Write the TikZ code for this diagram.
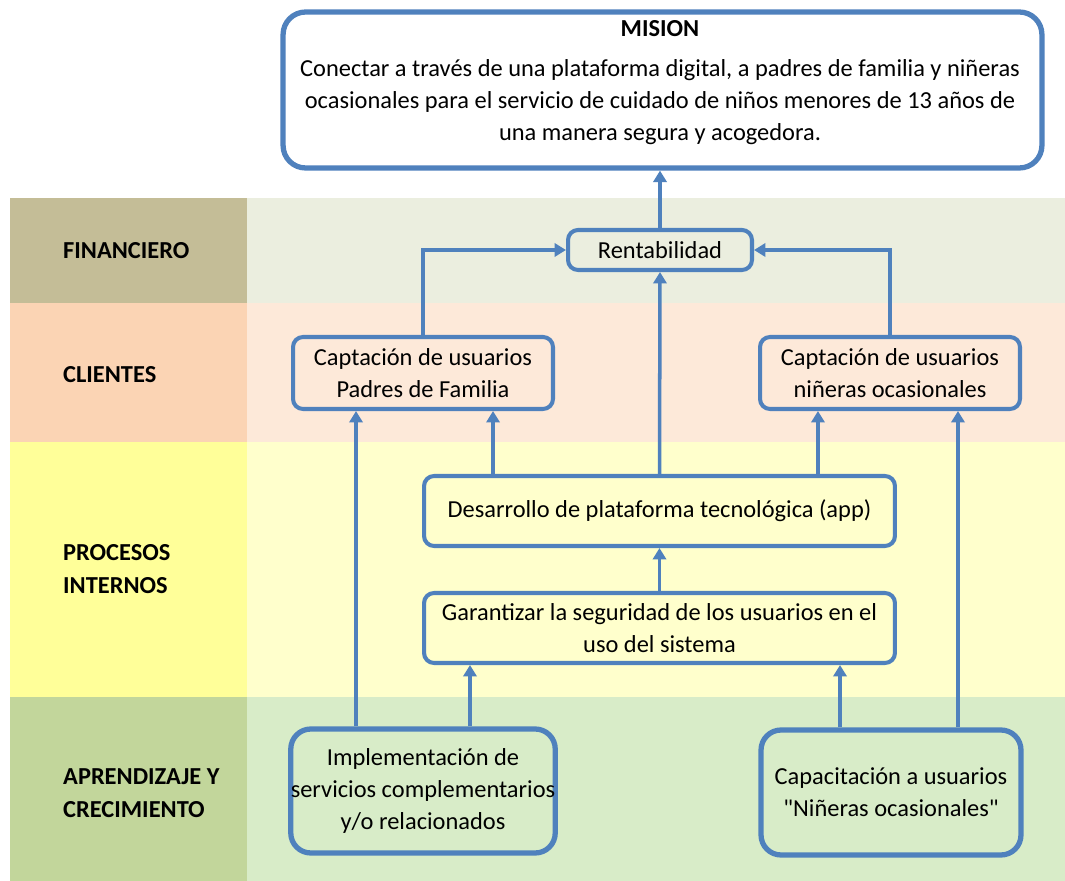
\documentclass[tikz,border=0pt]{standalone}
\usepackage{fontspec}
\setmainfont{Carlito}[Ligatures=TeXOff]
\usetikzlibrary{arrows.meta}
\definecolor{bsc}{RGB}{79,129,189}
\definecolor{finL}{RGB}{196,189,151}
\definecolor{finR}{RGB}{235,238,223}
\definecolor{cliL}{RGB}{251,212,180}
\definecolor{cliR}{RGB}{253,233,217}
\definecolor{proL}{RGB}{255,255,153}
\definecolor{proR}{RGB}{255,255,204}
\definecolor{apaL}{RGB}{194,214,155}
\definecolor{apaR}{RGB}{216,236,200}
\tikzset{%
  caja/.style={draw=bsc, line width=2.3pt, rounded corners=0.2cm, align=center,
    inner sep=0pt, font=\fontsize{13.9}{18.4}\selectfont},% objective box
  cajagrande/.style={caja, line width=3pt, rounded corners=0.45cm},
  flecha/.style={draw=bsc, line width=2pt, -{Triangle[width=7.5pt,length=6.5pt]}},% cause-effect arrow
  perspectiva/.style={anchor=west, align=left,
    font=\fontsize{13.9}{18.4}\selectfont\bfseries}% row label
}

\begin{document}
\begin{tikzpicture}[x=0.02cm, y=-0.02cm]

\fill[white] (0,0) rectangle (1065,881);
\useasboundingbox (0,0) rectangle (1065,881);

% bands
\fill[finL] (10,198) rectangle (247,303);
\fill[finR] (247,198) rectangle (1065,303);
\fill[cliL] (10,303) rectangle (247,442);
\fill[cliR] (247,303) rectangle (1065,442);
\fill[proL] (10,442) rectangle (247,697);
\fill[proR] (247,442) rectangle (1065,697);
\fill[apaL] (10,697) rectangle (247,881);
\fill[apaR] (247,697) rectangle (1065,881);

\node[perspectiva] (lfin) at (57,251) {FINANCIERO};
\node[perspectiva] (lcli) at (57,375) {CLIENTES};
\node[perspectiva] (lpro) at (57,569) {PROCESOS\\INTERNOS};
\node[perspectiva] (lapr) at (57,793) {APRENDIZAJE Y\\CRECIMIENTO};

\node[cajagrande, fill=white, minimum width=15.18cm, minimum height=3.12cm] (mision) at (662.5,90) {};
\node[align=center, font=\fontsize{13.9}{18.4}\selectfont] (txtmision) at (660,83)
  {\textbf{MISION}\\[4pt]
   Conectar a través de una plataforma digital, a padres de familia y niñeras\\
   ocasionales para el servicio de cuidado de niños menores de 13 años de\\
   una manera segura y acogedora.};

\node[caja, minimum width=3.68cm, minimum height=0.8cm] (rent) at (660,250) {Rentabilidad};
\node[caja, minimum width=5.2cm, minimum height=1.44cm] (padres) at (423,373)
  {Captación de usuarios\\Padres de Familia};
\node[caja, minimum width=5.2cm, minimum height=1.44cm] (nineras) at (890,373)
  {Captación de usuarios\\niñeras ocasionales};
\node[caja, minimum width=9.42cm, minimum height=1.4cm] (desarrollo) at (659.5,511)
  {Desarrollo de plataforma tecnológica (app)};
\node[caja, minimum width=9.42cm, minimum height=1.4cm] (garantizar) at (659.5,628)
  {Garantizar la seguridad de los usuarios en el\\uso del sistema};
\node[cajagrande, rounded corners=0.4cm, minimum width=5.2cm, minimum height=2.48cm] (implem) at (423,791)
  {Implementación de\\servicios complementarios\\y/o relacionados};
\node[cajagrande, rounded corners=0.4cm, minimum width=5.2cm, minimum height=2.5cm] (capacit) at (891,792.5)
  {Capacitación a usuarios\\"Niñeras ocasionales"};

\draw[flecha] (rent.north) -- (rent.north |- mision.south);
\draw[flecha] (padres.north) |- (rent.west);
\draw[flecha] (nineras.north) |- (rent.east);
\draw[flecha] (desarrollo.north) -- (rent.south);
\draw[flecha] ([xshift=-3.33cm]desarrollo.north) -- ([xshift=-3.33cm]desarrollo.north |- padres.south);
\draw[flecha] ([xshift=3.17cm]desarrollo.north) -- ([xshift=3.17cm]desarrollo.north |- nineras.south);
\draw[flecha] (garantizar.north) -- (desarrollo.south);
\draw[flecha] ([xshift=-1.34cm]implem.north) -- ([xshift=-1.34cm]implem.north |- padres.south);
\draw[flecha] ([xshift=0.94cm]implem.north) -- ([xshift=0.94cm]implem.north |- garantizar.south);
\draw[flecha] ([xshift=-1.02cm]capacit.north) -- ([xshift=-1.02cm]capacit.north |- garantizar.south);
\draw[flecha] ([xshift=1.34cm]capacit.north) -- ([xshift=1.34cm]capacit.north |- nineras.south);

\end{tikzpicture}
\end{document}
